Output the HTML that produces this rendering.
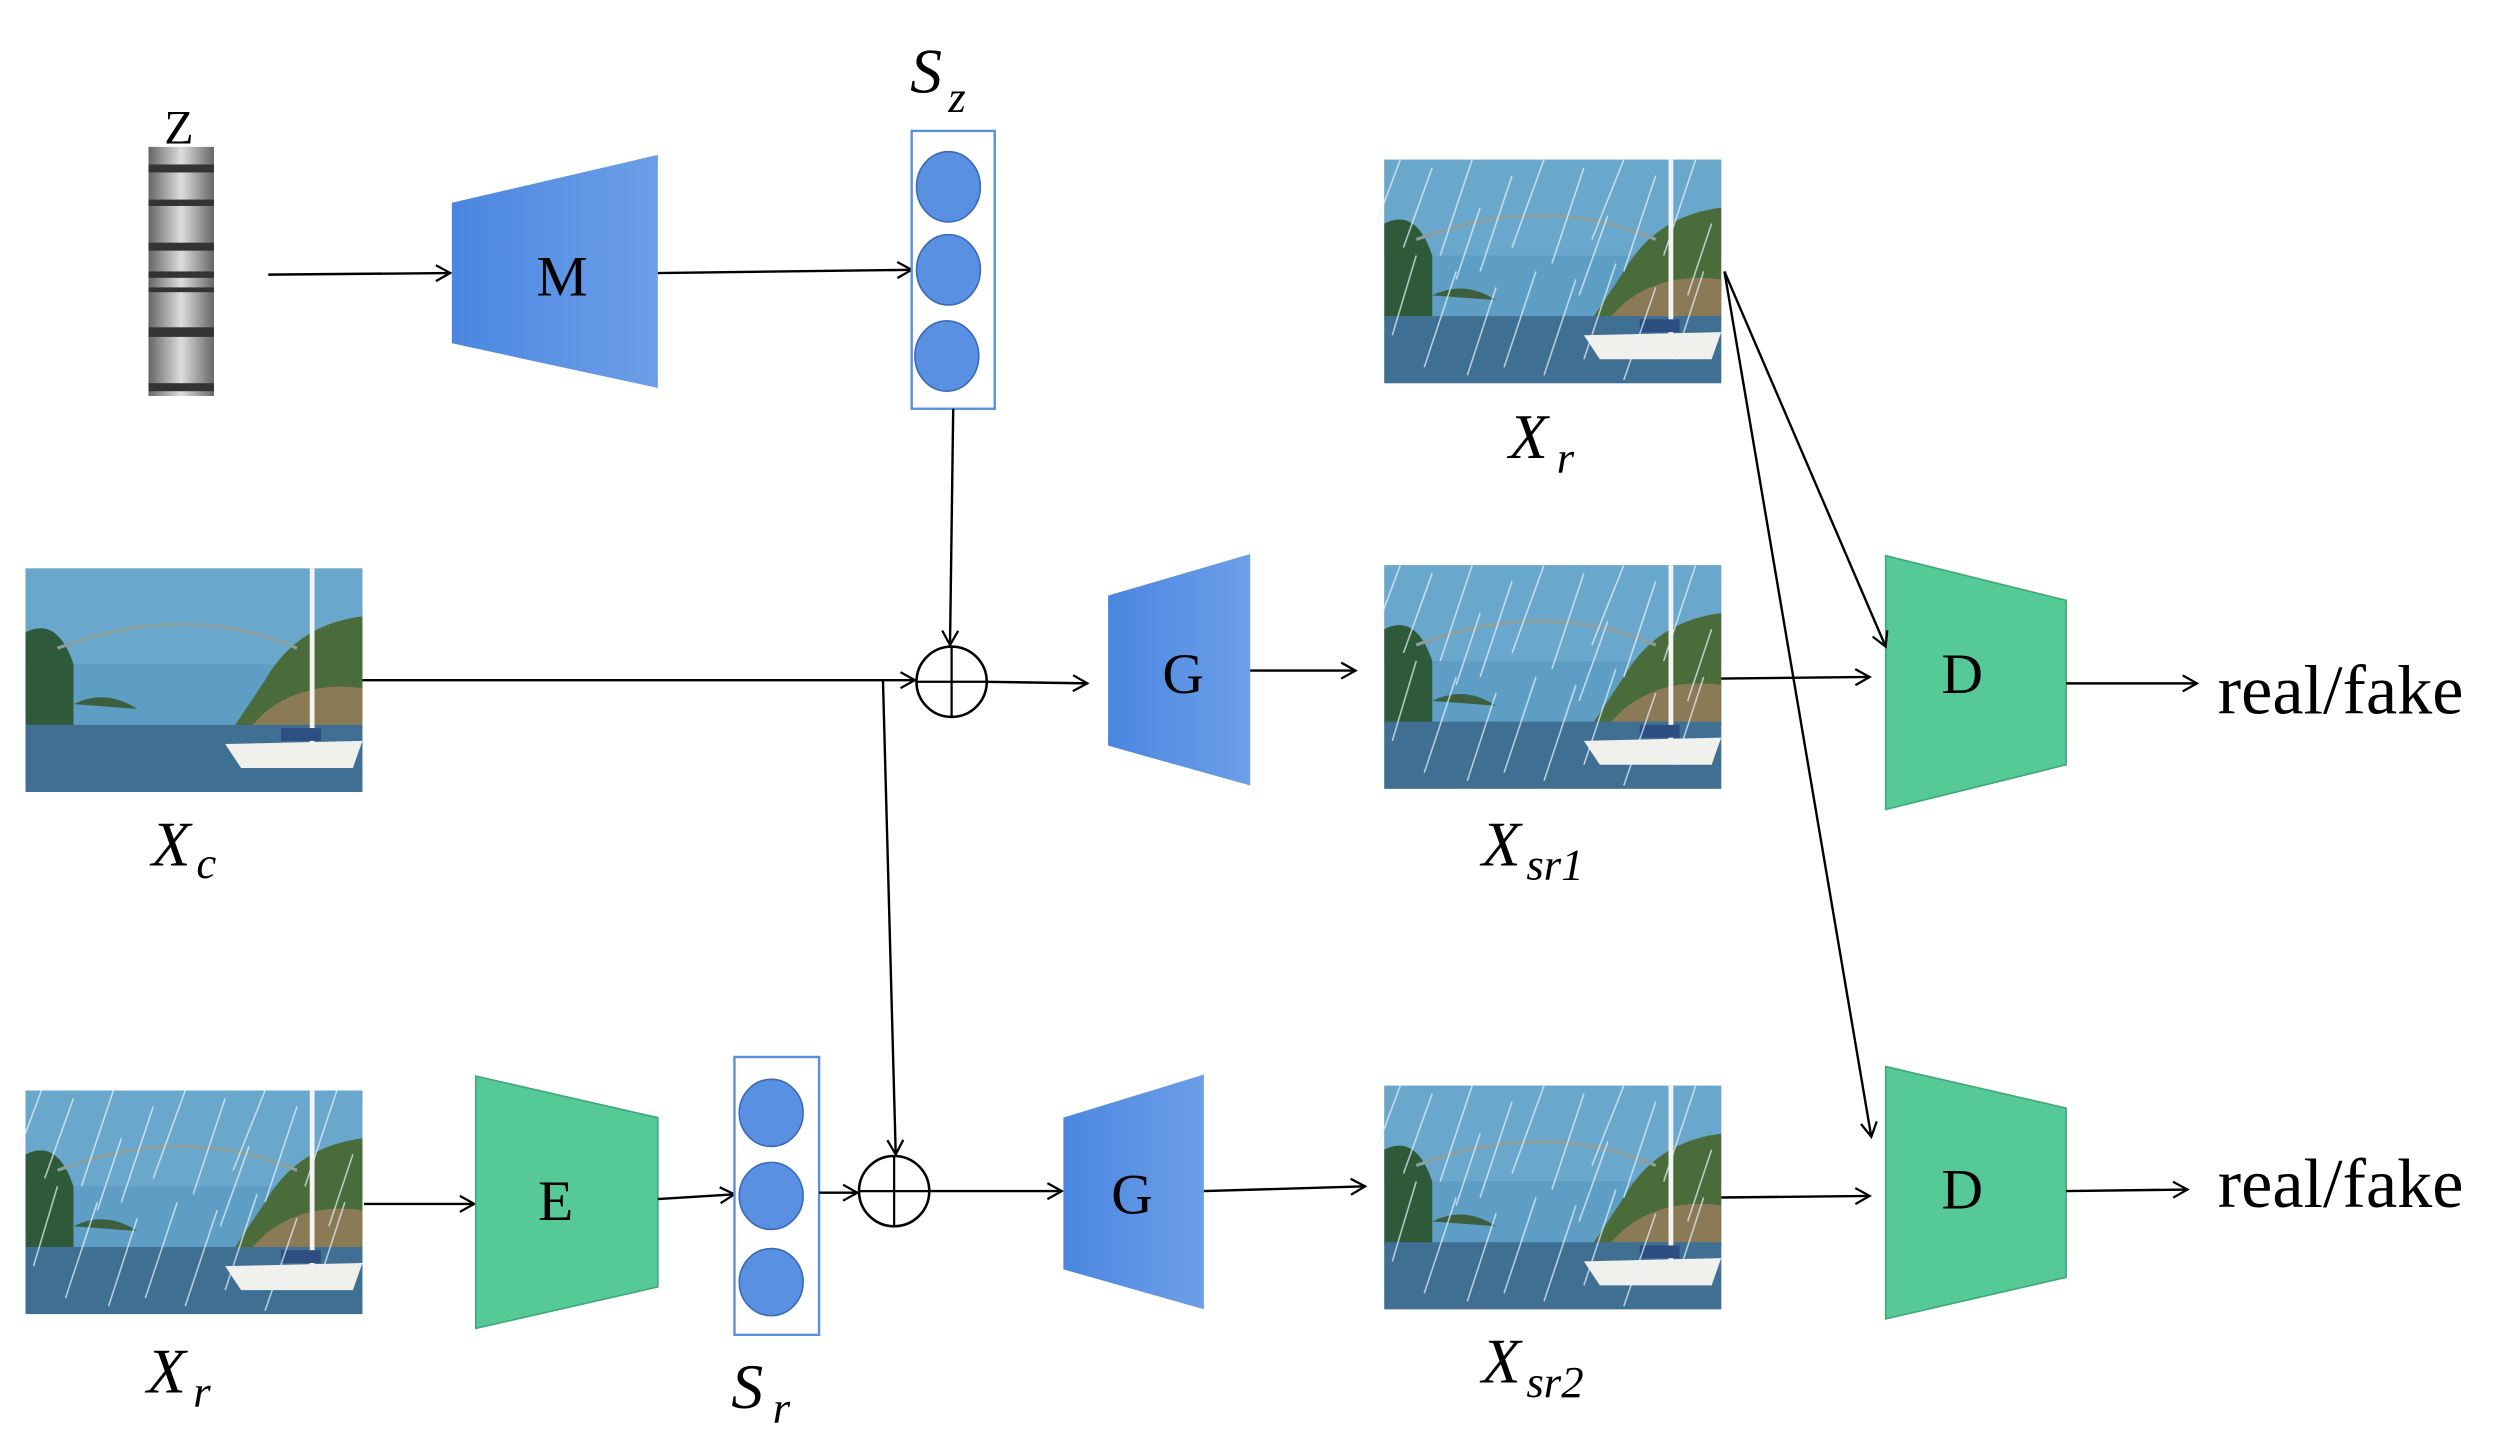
<!DOCTYPE html>
<html><head><meta charset="utf-8"><style>
html,body{margin:0;padding:0;background:#fff;}
svg{display:block;}
text{font-family:"Liberation Serif",serif;fill:#000;}
.m{font-style:italic;}
</style></head><body>
<svg width="2494" height="1437" viewBox="0 0 1562 900" preserveAspectRatio="none" xmlns="http://www.w3.org/2000/svg">
<defs>
<linearGradient id="gb" x1="0" x2="1" y1="0" y2="0"><stop offset="0" stop-color="#4a86e0"/><stop offset="1" stop-color="#6d9fe8"/></linearGradient>
<linearGradient id="zb" x1="0" x2="1"><stop offset="0" stop-color="#666"/><stop offset=".5" stop-color="#ddd"/><stop offset="1" stop-color="#666"/></linearGradient>
<marker id="ar" markerWidth="12" markerHeight="12" refX="10" refY="6" orient="auto" markerUnits="userSpaceOnUse"><path d="M1,1 L10,6 L1,11" fill="none" stroke="#000" stroke-width="1.4"/></marker>
<g id="scene">
<rect x="0" y="0" width="211" height="140" fill="#5f9ec4"/>
<rect x="0" y="0" width="211" height="60" fill="#6aa7cc"/>
<path d="M0,40 Q20,30 30,60 L30,100 L0,100Z" fill="#2f5a3a"/>
<path d="M150,70 Q170,35 211,30 L211,100 L130,100 Z" fill="#4a6b3a"/>
<path d="M150,90 Q175,70 211,75 L211,100 L140,100Z" fill="#8a7a55"/>
<path d="M30,85 Q50,75 70,88Z" fill="#3d5f40"/>
<path d="M20,50 Q100,20 170,50" fill="none" stroke="#8aa0a0" stroke-width="2"/>
<rect x="0" y="98" width="211" height="42" fill="#3f6f92"/>
<rect x="178" y="0" width="3" height="115" fill="#f4f4f4"/>
<path d="M125,110 L211,108 L205,125 L135,125Z" fill="#f0f0ec"/>
<rect x="160" y="100" width="25" height="8" fill="#2c4e80"/>
</g>
<g id="rain" stroke="#e8f4ff" stroke-width="1" opacity=".7">
<path d="M10,0 L-5,40 M30,5 L12,55 M55,0 L35,60 M80,10 L60,70 M100,0 L80,55 M125,5 L105,65 M150,0 L130,50 M170,10 L150,70 M195,0 L175,60 M20,60 L5,110 M45,70 L25,130 M70,80 L52,135 M95,70 L75,130 M120,75 L100,135 M145,65 L125,125 M170,80 L150,138 M200,70 L182,125 M60,30 L45,75 M140,35 L122,85 M205,40 L190,85"/>
</g>
</defs>

<rect x="93" y="92" width="41" height="156" fill="url(#zb)"/>
<g fill="#333"><rect x="93" y="103" width="41" height="5"/><rect x="93" y="125" width="41" height="4"/><rect x="93" y="152" width="41" height="5"/><rect x="93" y="170" width="41" height="4"/><rect x="93" y="180" width="41" height="3"/><rect x="93" y="205" width="41" height="6"/><rect x="93" y="240" width="41" height="5"/></g>
<text x="112" y="90" font-size="30" text-anchor="middle">Z</text>

<line x1="168" y1="172" x2="282" y2="171" stroke="#000" stroke-width="1.5" marker-end="url(#ar)"/>
<polygon points="283,127 412,97 412,243 283,215" fill="url(#gb)"/>
<text x="352" y="185" font-size="36" text-anchor="middle">M</text>
<line x1="412" y1="171" x2="571" y2="169" stroke="#000" stroke-width="1.5" marker-end="url(#ar)"/>

<rect x="571" y="82" width="52" height="174" fill="#fff" stroke="#5b8fe0" stroke-width="1.5"/>
<g fill="#5a90e2" stroke="#3a6ab8" stroke-width="1"><ellipse cx="594" cy="117" rx="20" ry="22"/><ellipse cx="594" cy="169" rx="20" ry="22"/><ellipse cx="593" cy="223" rx="20" ry="22"/></g>
<text x="570" y="58" font-size="40" class="m">S</text><text x="594" y="70" font-size="28" class="m">z</text>

<line x1="597" y1="256" x2="595" y2="404" stroke="#000" stroke-width="1.5" marker-end="url(#ar)"/>
<circle cx="596" cy="427" r="22" fill="none" stroke="#000" stroke-width="1.6"/>
<line x1="574" y1="427" x2="618" y2="427" stroke="#000" stroke-width="1.4"/><line x1="596" y1="405" x2="596" y2="449" stroke="#000" stroke-width="1.4"/>

<use href="#scene" x="16" y="356"/>
<text x="95" y="542" font-size="40" class="m">X</text><text x="123" y="550" font-size="28" class="m">c</text>
<line x1="227" y1="426" x2="573" y2="426" stroke="#000" stroke-width="1.5" marker-end="url(#ar)"/>
<line x1="553" y1="426" x2="561" y2="723" stroke="#000" stroke-width="1.5" marker-end="url(#ar)"/>
<line x1="618" y1="427" x2="681" y2="428" stroke="#000" stroke-width="1.5" marker-end="url(#ar)"/>

<polygon points="694,373 783,347 783,492 694,467" fill="url(#gb)"/>
<text x="741" y="434" font-size="36" text-anchor="middle">G</text>
<line x1="783" y1="420" x2="849" y2="420" stroke="#000" stroke-width="1.5" marker-end="url(#ar)"/>

<use href="#scene" x="867" y="100"/><use href="#rain" x="867" y="100"/>
<text x="945" y="287" font-size="40" class="m">X</text><text x="975" y="296" font-size="28" class="m">r</text>
<use href="#scene" x="867" y="354"/><use href="#rain" x="867" y="354"/>
<text x="928" y="542" font-size="40" class="m">X</text><text x="956" y="551" font-size="28" class="m">sr1</text>
<line x1="1078" y1="425" x2="1171" y2="424" stroke="#000" stroke-width="1.5" marker-end="url(#ar)"/>

<polygon points="1181,348 1294,376 1294,479 1181,507" fill="#55c996" stroke="#3fa878" stroke-width="1"/>
<text x="1229" y="434" font-size="36" text-anchor="middle">D</text>
<line x1="1294" y1="428" x2="1376" y2="428" stroke="#000" stroke-width="1.5" marker-end="url(#ar)"/>
<text x="1389" y="447" font-size="44">real/fake</text>

<line x1="1080" y1="170" x2="1181" y2="405" stroke="#000" stroke-width="1.5" marker-end="url(#ar)"/>
<line x1="1080" y1="170" x2="1172" y2="712" stroke="#000" stroke-width="1.5" marker-end="url(#ar)"/>

<use href="#scene" x="16" y="683"/><use href="#rain" x="16" y="683"/>
<text x="92" y="872" font-size="40" class="m">X</text><text x="121" y="881" font-size="28" class="m">r</text>
<line x1="228" y1="754" x2="297" y2="754" stroke="#000" stroke-width="1.5" marker-end="url(#ar)"/>
<polygon points="298,674 412,700 412,806 298,832" fill="#55c996" stroke="#3fa878" stroke-width="1"/>
<text x="348" y="764" font-size="36" text-anchor="middle">E</text>
<line x1="412" y1="751" x2="460" y2="748" stroke="#000" stroke-width="1.5" marker-end="url(#ar)"/>

<rect x="460" y="662" width="53" height="174" fill="#fff" stroke="#5b8fe0" stroke-width="1.5"/>
<g fill="#5a90e2" stroke="#3a6ab8" stroke-width="1"><ellipse cx="483" cy="697" rx="20" ry="21"/><ellipse cx="483" cy="749" rx="20" ry="21"/><ellipse cx="483" cy="803" rx="20" ry="21"/></g>
<text x="458" y="882" font-size="40" class="m">S</text><text x="484" y="891" font-size="28" class="m">r</text>
<line x1="513" y1="747" x2="537" y2="747" stroke="#000" stroke-width="1.5" marker-end="url(#ar)"/>
<circle cx="560" cy="746" r="22" fill="none" stroke="#000" stroke-width="1.6"/>
<line x1="538" y1="746" x2="582" y2="746" stroke="#000" stroke-width="1.4"/><line x1="560" y1="724" x2="560" y2="768" stroke="#000" stroke-width="1.4"/>
<line x1="582" y1="746" x2="665" y2="746" stroke="#000" stroke-width="1.5" marker-end="url(#ar)"/>

<polygon points="666,700 754,673 754,820 666,795" fill="url(#gb)"/>
<text x="709" y="760" font-size="36" text-anchor="middle">G</text>
<line x1="754" y1="746" x2="855" y2="743" stroke="#000" stroke-width="1.5" marker-end="url(#ar)"/>

<use href="#scene" x="867" y="680"/><use href="#rain" x="867" y="680"/>
<text x="928" y="866" font-size="40" class="m">X</text><text x="956" y="875" font-size="28" class="m">sr2</text>
<line x1="1078" y1="750" x2="1171" y2="749" stroke="#000" stroke-width="1.5" marker-end="url(#ar)"/>

<polygon points="1181,668 1294,694 1294,800 1181,826" fill="#55c996" stroke="#3fa878" stroke-width="1"/>
<text x="1229" y="757" font-size="36" text-anchor="middle">D</text>
<line x1="1294" y1="746" x2="1370" y2="745" stroke="#000" stroke-width="1.5" marker-end="url(#ar)"/>
<text x="1389" y="756" font-size="44">real/fake</text>
</svg>
</body></html>
